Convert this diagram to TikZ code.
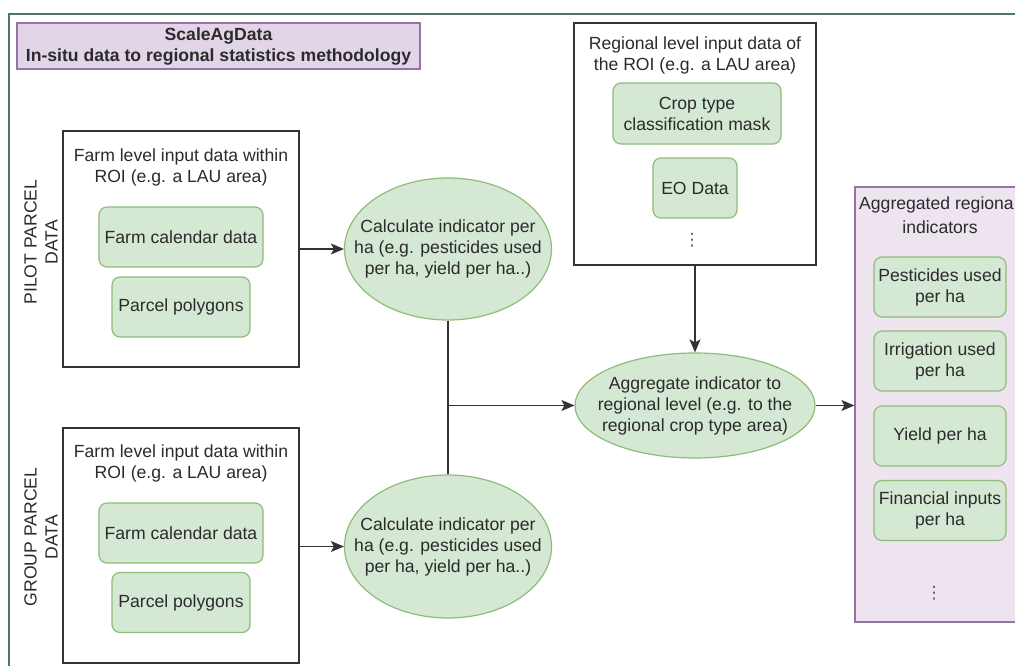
\documentclass[tikz,border=0pt]{standalone}
\usepackage{fontspec}
\setmainfont{Liberation Sans}
\newfontfamily\djv{DejaVu Sans}
\usetikzlibrary{arrows.meta,shapes.geometric}
\definecolor{gfill}{HTML}{D5E8D4}
\definecolor{gborder}{HTML}{8FBC78}
\definecolor{pfill}{HTML}{E1D5E7}
\definecolor{pfilllight}{HTML}{EDE4F0}
\definecolor{pborder}{HTML}{9673A6}
\definecolor{txtc}{HTML}{2B2B2B}
\definecolor{linec}{HTML}{333333}
\definecolor{framec}{HTML}{4D7674}
\definecolor{dotc}{HTML}{555555}
\tikzset{
  txt/.style={font=\fontsize{17.6}{21}\selectfont, text=txtc, align=center, inner sep=0pt},
  greenbox/.style={draw=gborder, fill=gfill, rounded corners=8pt, line width=1.2pt, inner sep=0pt,
    font=\fontsize{17.6}{21}\selectfont, text=txtc, align=center},
  blackbox/.style={draw=linec, line width=1.5pt, inner sep=0pt},
  greenell/.style={ellipse, draw=gborder, fill=gfill, line width=1.2pt, inner sep=0pt},
  conn/.style={draw=linec, line width=1.5pt},
  arr/.style={conn, -{Stealth[length=13pt,width=11pt,inset=3pt]}},
  vdots/.style={font=\djv\fontsize{17}{17}\selectfont, text=dotc, inner sep=0pt},
  sidelabel/.style={txt, rotate=90}
}
\begin{document}
\begin{tikzpicture}[x=1pt,y=-1pt]
\useasboundingbox (0,0) rectangle (1015,666);
\clip (0,0) rectangle (1015,666);
\fill[white] (0,0) rectangle (1015,666);

% outer frame
\draw[framec, line width=2pt] (9,670) -- (9,14) -- (1020,14);

% title
\node[draw=pborder, fill=pfill, line width=1.2pt, minimum width=403pt, minimum height=46pt, inner sep=0pt,
  font=\bfseries\fontsize{17.6}{21}\selectfont, text=txtc, align=center] (title) at (218.5,46)
  {ScaleAgData\\In-situ data to regional statistics methodology};

% pilot parcel data
\node[sidelabel] (pilotlab) at (41,242) {PILOT PARCEL\\DATA};
\node[blackbox, minimum width=236pt, minimum height=236pt] (pilot) at (181,249) {};
\node[txt] (pilottxt) at (181,167.5) {Farm level input data within\\ROI (e.g. a LAU area)};
\node[greenbox, minimum width=164pt, minimum height=60pt] (pcal) at (181,237) {Farm calendar data};
\node[greenbox, minimum width=138pt, minimum height=60pt] (ppoly) at (181,307) {Parcel polygons};

% group parcel data
\node[sidelabel] (grouplab) at (41,537) {GROUP PARCEL\\DATA};
\node[blackbox, minimum width=236pt, minimum height=235pt] (group) at (181,545.5) {};
\node[txt] (grouptxt) at (181,463.5) {Farm level input data within\\ROI (e.g. a LAU area)};
\node[greenbox, minimum width=164pt, minimum height=60pt] (gcal) at (181,533) {Farm calendar data};
\node[greenbox, minimum width=138pt, minimum height=60pt] (gpoly) at (181,602.5) {Parcel polygons};

% calculate ellipses
\node[greenell, minimum width=207pt, minimum height=142pt] (calc1) at (448,249) {};
\node[txt] (calc1txt) at (calc1.center) {Calculate indicator per\\ha (e.g. pesticides used\\per ha, yield per ha..)};
\node[greenell, minimum width=207pt, minimum height=143pt] (calc2) at (448,546.5) {};
\node[txt] (calc2txt) at (calc2.center) {Calculate indicator per\\ha (e.g. pesticides used\\per ha, yield per ha..)};

% regional input
\node[blackbox, minimum width=242pt, minimum height=242pt] (regional) at (695,144) {};
\node[txt] (regtxt) at (695,55) {Regional level input data of\\the ROI (e.g. a LAU area)};
\node[greenbox, minimum width=168pt, minimum height=61pt] (crop) at (697,113.5) {Crop type\\classification mask};
\node[greenbox, minimum width=84pt, minimum height=60pt] (eo) at (695,188) {EO Data};
\node[vdots] (regdots) at (692,240) {⋮};

% aggregate ellipse
\node[greenell, minimum width=240pt, minimum height=105pt] (agg) at (695,405.5) {};
\node[txt] (aggelltxt) at (agg.center) {Aggregate indicator to\\regional level (e.g. to the\\regional crop type area)};

% aggregated indicators
\node[draw=pborder, fill=pfilllight, line width=1.2pt, minimum width=170pt, minimum height=435pt, inner sep=0pt]
  (aggbox) at (940,404.5) {};
\node[txt, anchor=north west, align=left] (aggtxt1) at (859,197) {Aggregated regiona};
\node[txt] (aggtxt2) at (940,227) {indicators};
\node[greenbox, minimum width=132pt, minimum height=60pt] (ind1) at (940,287) {Pesticides used\\per ha};
\node[greenbox, minimum width=132pt, minimum height=60pt] (ind2) at (940,361) {Irrigation used\\per ha};
\node[greenbox, minimum width=132pt, minimum height=60pt] (ind3) at (940,436) {Yield per ha};
\node[greenbox, minimum width=132pt, minimum height=60pt] (ind4) at (940,510.5) {Financial inputs\\per ha};
\node[vdots] (aggdots) at (934,593) {⋮};

% connectors
\draw[arr] (pilot.east) -- (calc1.west);
\draw[arr] (group.east |- calc2.west) -- (calc2.west);
\draw[conn] (calc1.south) -- (calc2.north);
\draw[arr] (calc1.south |- agg.west) -- (agg.west);
\draw[arr] (regional.south) -- (agg.north);
\draw[arr] (agg.east) -- (aggbox.west |- agg.east);
\end{tikzpicture}
\end{document}
